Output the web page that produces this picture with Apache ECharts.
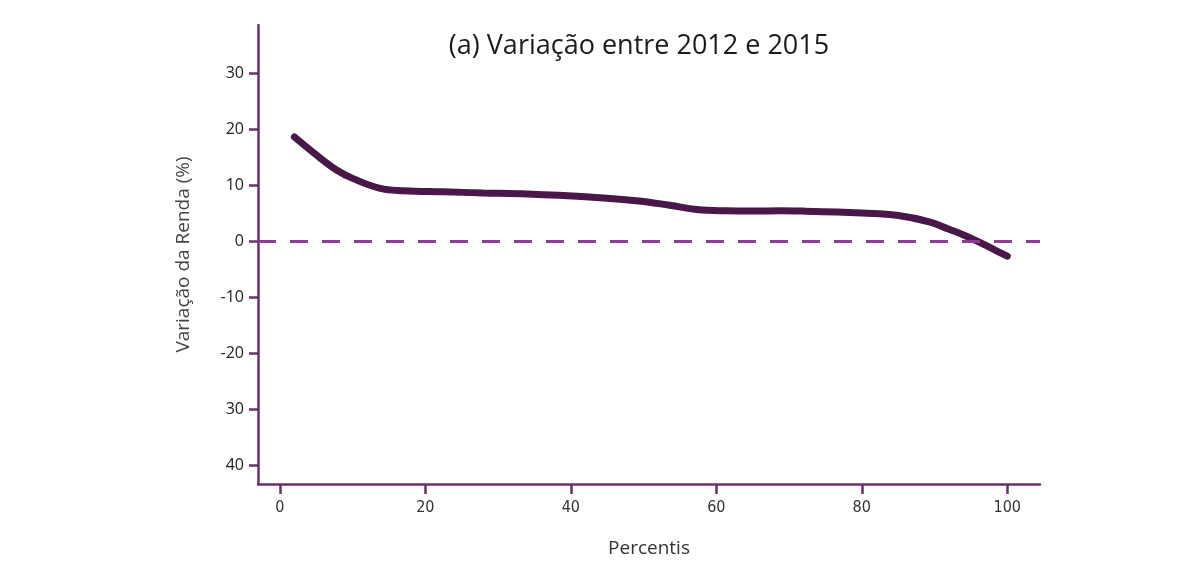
<!DOCTYPE html>
<html><head><meta charset="utf-8">
<script src="https://cdn.jsdelivr.net/npm/echarts@6/dist/echarts.min.js"></script>
<style>html,body{margin:0;padding:0;background:#fff}#c{width:1191px;height:566px}</style>
</head><body><div id="c"></div>
<script>
const percentis = [2, 5, 7.8, 10, 13.8, 17, 22.4, 28, 34, 42, 49, 53.6, 57.3, 61.4, 65, 68.8, 72, 76.6, 80, 84.8, 89.4, 92, 94, 96, 98, 100];
const variacao  = [18.6, 15.4, 12.7, 11.2, 9.4, 9.0, 8.8, 8.6, 8.4, 7.9, 7.2, 6.4, 5.65, 5.4, 5.35, 5.4, 5.35, 5.2, 5.0, 4.6, 3.4, 2.1, 1.1, -0.1, -1.4, -2.7];
const xTicks = [0, 20, 40, 60, 80, 100];
const yTicks = [-40, -30, -20, -10, 0, 10, 20, 30];
const yTickLabels = {"-40": "40", "-30": "30", "-20": "-20", "-10": "-10", "0": "0", "10": "10", "20": "20", "30": "30"};
const titleText = "(a) Variação entre 2012 e 2015";

const axisColor = '#6b2f6e';
const chart = echarts.init(document.getElementById('c'));
chart.setOption({
  animation: false,
  title: {text: titleText, left: 634, top: 28, textAlign: 'center',
    textStyle: {fontFamily: 'Open Sans', fontWeight: 'normal', fontSize: 27, color: '#1a1a1a'}},
  grid: {left: 258, right: 151, top: 25, bottom: 82},
  xAxis: {
    type: 'value', min: -3, max: 104.5,
    name: 'Percentis', nameLocation: 'middle', nameGap: 55,
    nameTextStyle: {fontFamily: 'Open Sans', fontSize: 19, color: '#333'},
    axisLine: {onZero: false, lineStyle: {color: axisColor, width: 2.5}},
    axisTick: {show: true, length: 10, lineStyle: {color: axisColor, width: 2.5}, customValues: xTicks},
    axisLabel: {customValues: xTicks, margin: 16, fontFamily: 'DejaVu Sans Condensed', fontSize: 16, color: '#333'},
    splitLine: {show: false}
  },
  yAxis: {
    type: 'value', min: -43.4, max: 38.6,
    name: 'Variação da Renda (%)', nameLocation: 'middle', nameGap: 65, nameRotate: 90,
    nameTextStyle: {fontFamily: 'Open Sans', fontSize: 19, color: '#444'},
    axisLine: {show: true, onZero: false, lineStyle: {color: axisColor, width: 2.5}},
    axisTick: {show: true, length: 9, lineStyle: {color: axisColor, width: 2.5}, customValues: yTicks},
    axisLabel: {customValues: yTicks, margin: 14, fontFamily: 'Open Sans', fontSize: 16, color: '#222',
      formatter: v => yTickLabels[String(Math.round(v))] ?? String(v)},
    splitLine: {show: false}
  },
  series: [{
    type: 'line', data: percentis.map((p, i) => [p, variacao[i]]),
    smooth: 0.4, showSymbol: false, symbol: 'none',
    lineStyle: {color: '#4a1848', width: 7, cap: 'round'},
    markLine: {silent: true, symbol: 'none', label: {show: false},
      lineStyle: {color: '#8a3f8e', width: 3, type: [18, 14]},
      data: [{yAxis: 0}]}
  }]
});
</script></body></html>
